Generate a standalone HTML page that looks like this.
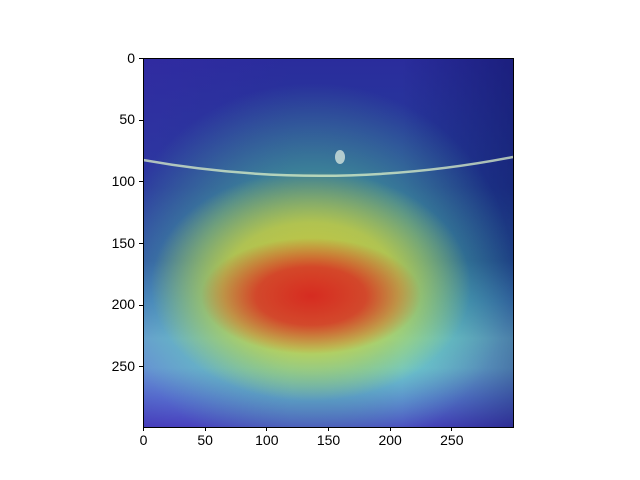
<!DOCTYPE html>
<html><head><meta charset="utf-8"><style>
body{margin:0;background:#fff;width:640px;height:480px;overflow:hidden;font-family:"Liberation Sans","DejaVu Sans",sans-serif;}
#fig{position:relative;width:640px;height:480px;}
#ax{position:absolute;left:143px;top:58px;width:370px;height:369px;overflow:hidden;
background:
radial-gradient(ellipse 110px 58px at 168px 238px, rgba(215,30,30,0.92) 0%, rgba(215,40,35,0.8) 50%, rgba(220,60,40,0) 100%),
radial-gradient(ellipse 160px 115px at 168px 228px, rgba(220,200,50,0.9) 0%, rgba(210,210,60,0.75) 55%, rgba(180,210,80,0) 100%),
radial-gradient(ellipse 200px 190px at 170px 215px, rgba(120,200,110,0.65) 0%, rgba(80,190,150,0.5) 55%, rgba(60,170,190,0) 100%),
linear-gradient(to right, rgba(60,40,170,0.35) 0%, rgba(0,0,0,0) 40%, rgba(0,0,0,0) 70%, rgba(10,15,90,0.45) 100%),
linear-gradient(to bottom, #2a2c9c 0%, #24409a 35%, #2e6aa6 55%, #50a8d0 66%, #80dce8 76%, #7ccce8 84%, #6088dc 92%, #4c48c4 100%);}
#outline{position:absolute;left:143px;top:58px;width:369px;height:368px;border:1px solid #000;}
.tk{position:absolute;background:#000;}
.lb{position:absolute;font-size:14px;color:#000;}
</style></head><body>
<div id="fig">
<div id="ax">
<svg width="370" height="369" style="position:absolute;left:0;top:0">
<path d="M0,102 Q185,135 370,99" stroke="rgba(220,240,200,0.75)" stroke-width="2.5" fill="none"/>
<ellipse cx="197" cy="99" rx="5" ry="7" fill="rgba(220,235,225,0.75)"/>
</svg>
</div>
<div id="outline"></div>
</div>
<script>
const xTicks=[0,50,100,150,200,250];
const yTicks=[0,50,100,150,200,250];
const fig=document.getElementById('fig');
const L=143,T=58,S=370/300;
xTicks.forEach(v=>{
 const x=L+0.5+v*S;
 const t=document.createElement('div');t.className='tk';
 
 
 t.style.cssText=`left:${x-0.5}px;top:427px;width:1px;height:4px`;fig.appendChild(t);
 const l=document.createElement('div');l.className='lb';
 
 
 l.textContent=v;l.style.cssText=`left:${x-30}px;width:60px;text-align:center;top:432px`;fig.appendChild(l);
});
yTicks.forEach(v=>{
 const y=T+0.5+v*S;
 const t=document.createElement('div');t.className='tk';
 
 
 t.style.cssText=`left:139px;top:${y-0.5}px;width:4px;height:1px`;fig.appendChild(t);
 const l=document.createElement('div');l.className='lb';
 
 
 l.textContent=v;l.style.cssText=`left:75px;width:60px;text-align:right;top:${y-9}px`;fig.appendChild(l);
});
</script>
</body></html>
